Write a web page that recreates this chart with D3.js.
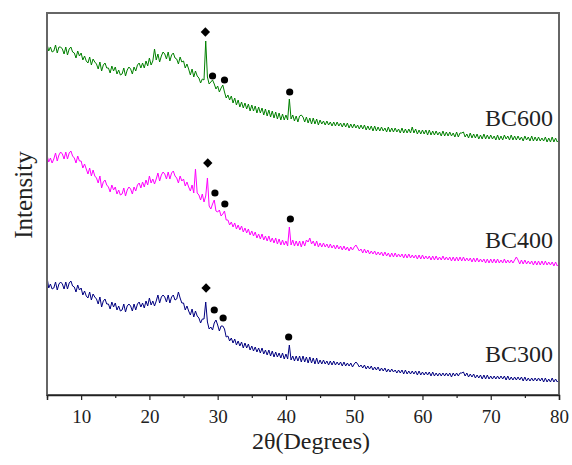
<!DOCTYPE html>
<html>
<head>
<meta charset="utf-8">
<script src="https://cdn.jsdelivr.net/npm/d3@7"></script>
<style>
  html, body { margin: 0; padding: 0; background: #fff; }
  svg { display: block; }
  text { font-family: "Liberation Serif", "Times New Roman", serif; fill: #222; }
</style>
</head>
<body>
<svg id="chart" width="572" height="465"></svg>
<script>
// ---- data ----
// 2θ sampling grid: 5° to 80° in 0.25° steps
const twoTheta = d3.range(0, 301).map(i => 5 + i * 0.25);

const seriesNames = ["BC600", "BC400", "BC300"];
const seriesColors = ["#008000", "#ff00ff", "#000080"];

const bc600 = [
351,344,348,343, 344,350,342,348, 348,346,341,348, 340,346,348,343, 342,337,344,339,
342,335,339,334, 332,338,330,336, 333,331,326,333, 324,330,332,327, 327,322,329,324,
328,321,325,320, 321,327,319,325, 328,326,321,328, 324,330,332,327, 332,327,334,329,
337,330,334,346, 335,341,333,339, 343,341,336,343, 334,340,342,337, 336,331,338,333,
334,327,331,326, 320,326,318,324, 319,317,312,316, 315,354,318,311, 313,315,311,306,
309,303,307,310, 303,297,300,295, 299,292,297,290, 295,288,293,287, 292,286,291,284,
290,284,289,282, 288,282,287,280, 286,279,285,278, 284,277,283,276, 282,275,281,275,
280,275,296,276, 280,274,279,273, 279,280,278,273, 278,272,277,271, 277,271,276,270,
275,271,274,270, 274,270,273,269, 273,269,273,269, 272,268,272,268, 272,267,271,267,
271,267,270,266, 270,266,270,265, 269,265,269,264, 269,264,268,264, 268,264,267,263,
268,263,267,263, 267,263,266,262, 267,262,266,262, 266,262,268,262, 266,261,265,261,
265,261,265,260, 265,260,264,260, 264,260,263,259, 264,259,263,259, 263,259,262,258,
263,258,262,262, 263,258,261,257, 262,257,261,257, 261,256,260,256, 261,256,260,256,
260,256,259,255, 260,255,259,255, 260,256,259,255, 260,255,259,255, 259,255,258,254,
259,255,258,254, 259,254,258,254, 258,254,257,254, 258,253,257,253, 258,253,257,253,
255];

const bc400 = [
240,233,237,232, 236,242,234,240, 243,241,236,243, 236,242,244,239, 237,232,239,234,
234,227,231,226, 221,227,219,225, 219,217,212,219, 207,213,215,210, 208,203,210,205,
208,201,205,200, 201,207,199,205, 208,206,201,208, 204,210,212,207, 213,208,215,210,
219,212,216,211, 216,222,214,220, 223,221,216,223, 216,222,224,219, 217,212,219,214,
216,209,213,208, 204,210,202,226, 202,200,195,201, 193,199,217,189, 186,191,195,184,
183,185,179,181, 184,175,175,170, 173,168,172,166, 170,165,169,163, 167,162,166,160,
164,159,163,157, 161,156,161,155, 159,154,159,153, 157,152,157,151, 156,150,155,150,
154,149,168,150, 155,149,154,149, 154,148,154,149, 155,153,157,151, 154,149,154,148,
152,148,152,148, 151,147,151,147, 150,146,150,146, 149,145,149,145, 148,144,148,145,
148,150,147,144, 146,142,146,142, 145,141,144,141, 144,140,143,140, 143,139,143,139,
142,138,142,138, 142,138,141,138, 141,137,141,137, 141,137,140,137, 140,136,140,136,
140,136,139,136, 139,135,139,135, 139,135,138,135, 139,135,138,135, 138,134,138,134,
138,134,138,134, 138,134,137,134, 137,133,137,133, 137,133,136,133, 136,132,136,132,
136,132,136,132, 136,132,135,132, 136,132,135,132, 135,132,135,138, 135,131,135,131,
135,131,134,131, 134,130,134,130, 134,130,134,130, 134,130,133,130, 133,129,133,129,
131];

const bc300 = [
118,107,111,106, 107,113,105,111, 113,111,106,113, 106,112,114,109, 108,103,110,105,
107,100,104,99, 97,103,95,101, 98,96,91,98, 88,94,96,91, 91,86,93,88,
92,85,89,84, 85,91,83,89, 91,89,84,91, 85,91,93,88, 92,87,94,89,
97,90,94,89, 94,100,92,98, 100,98,93,100, 92,98,100,95, 96,103,97,92,
92,85,89,84, 80,86,78,84, 79,77,72,76, 76,93,73,66, 68,65,72,75,
70,64,69,69, 66,58,59,54, 57,52,56,50, 54,49,53,47, 52,47,51,45,
49,44,48,43, 47,42,47,41, 45,40,45,39, 44,38,43,38, 42,37,42,36,
41,36,50,35, 39,34,39,34, 39,33,39,33, 38,32,38,32, 37,31,37,31,
35,31,35,31, 34,30,34,30, 34,30,33,30, 33,29,33,29, 32,29,32,28,
31,33,31,28, 30,27,30,26, 29,26,29,25, 28,25,28,24, 27,24,27,23,
26,23,26,23, 25,22,25,22, 25,21,25,21, 24,21,24,21, 24,20,24,20,
23,20,23,20, 23,19,23,19, 22,19,22,19, 22,19,22,19, 22,18,22,19,
22,19,22,22, 23,19,22,18, 21,18,21,17, 20,17,20,16, 20,16,20,16,
19,16,19,16, 19,16,19,16, 19,15,19,15, 18,15,18,15, 18,15,18,14,
18,14,17,14, 17,14,17,14, 17,14,17,13, 17,13,16,13, 17,13,16,13,
15];

// peak markers: [2θ, intensity level]
const diamondMarks = [[28.2, 363], [28.55, 232], [28.3, 107]];
const dotMarks = [
  [29.25, 319], [31.0, 315], [40.55, 303],
  [29.6, 202], [31.05, 191], [40.65, 176],
  [29.5, 85], [30.8, 77], [40.4, 58]
];

const xTicksMajor = [10, 20, 30, 40, 50, 60, 70, 80];
const xTicksMinor = [5, 15, 25, 35, 45, 55, 65, 75];
const xLabel = "2θ(Degrees)";
const yLabel = "Intensity";

// ---- drawing ----
const svg = d3.select("#chart");
const mLeft = 47, mRight = 559, mTop = 13, mBottom = 395;

const x = d3.scaleLinear().domain([5, 80]).range([mLeft, mRight]);
const y = d3.scaleLinear().domain([0, 382]).range([mBottom, mTop]);

const allSeries = [bc600, bc400, bc300];

const line = d3.line()
  .x((d, i) => x(twoTheta[i]))
  .y(d => y(d));

svg.append("g").selectAll("path")
  .data(allSeries)
  .join("path")
  .attr("d", d => line(d))
  .attr("fill", "none")
  .attr("stroke", (d, i) => seriesColors[i])
  .attr("stroke-width", 1)
  .attr("stroke-linejoin", "round");

// frame
svg.append("rect")
  .attr("x", mLeft).attr("y", mTop)
  .attr("width", mRight - mLeft).attr("height", mBottom - mTop)
  .attr("fill", "none").attr("stroke", "#666").attr("stroke-width", 2);

// x axis
const xAxis = d3.axisBottom(x).tickValues(xTicksMajor).tickSize(5).tickFormat(d3.format("d"));
const gx = svg.append("g").attr("transform", `translate(0,${mBottom})`).call(xAxis);
gx.select(".domain").attr("stroke", "#222").attr("stroke-width", 1.5);
gx.selectAll(".tick line").attr("stroke", "#222").attr("stroke-width", 1.2);
gx.selectAll(".tick text")
  .attr("y", 28).attr("dy", 0)
  .style("font-family", "'Liberation Serif', serif")
  .style("font-size", "19px").attr("fill", "#222");

const xAxisMinor = d3.axisBottom(x).tickValues(xTicksMinor).tickSize(3).tickFormat("");
const gxm = svg.append("g").attr("transform", `translate(0,${mBottom})`).call(xAxisMinor);
gxm.select(".domain").remove();
gxm.selectAll(".tick line").attr("stroke", "#222").attr("stroke-width", 1.2);

// axis titles
svg.append("text")
  .attr("x", 311).attr("y", 449)
  .attr("text-anchor", "middle")
  .style("font-size", "24px")
  .text(xLabel);

svg.append("text")
  .attr("transform", `translate(32,195) rotate(-90)`)
  .attr("text-anchor", "middle")
  .style("font-size", "25px")
  .text(yLabel);

// markers
svg.append("g").selectAll("path")
  .data(diamondMarks)
  .join("path")
  .attr("d", d3.symbol().type(d3.symbolSquare).size(44))
  .attr("transform", d => `translate(${x(d[0])},${y(d[1])}) rotate(45)`)
  .attr("fill", "#000");

svg.append("g").selectAll("circle")
  .data(dotMarks)
  .join("circle")
  .attr("cx", d => x(d[0])).attr("cy", d => y(d[1]))
  .attr("r", 3.6)
  .attr("fill", "#000");

// series labels
svg.append("g").selectAll("text")
  .data(seriesNames)
  .join("text")
  .attr("x", x(80) - 6)
  .attr("y", (d, i) => y(allSeries[i][allSeries[i].length - 1]) - [14, 16, 18][i])
  .attr("text-anchor", "end")
  .style("font-size", "24px")
  .text(d => d);
</script>
</body>
</html>
